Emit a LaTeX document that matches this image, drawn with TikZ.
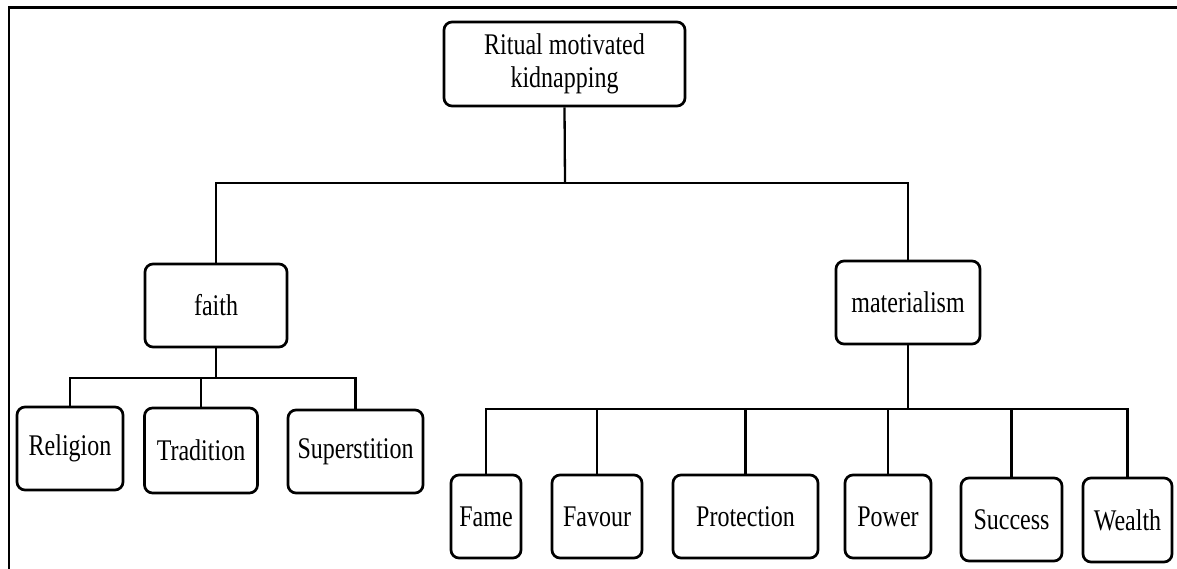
\documentclass[tikz,border=0pt]{standalone}
\usepackage{fontspec}
\setmainfont{Liberation Serif}[FakeStretch=0.8]
\begin{document}
\begin{tikzpicture}[x=1pt,y=-1pt,
  box/.style={draw=black, line width=2.7pt, rounded corners=8pt, fill=white,
    inner sep=0pt, align=center, font=\fontsize{30}{33}\selectfont},
  conn/.style={draw=black, line width=2.3pt}]
\useasboundingbox (0,0) rectangle (1177,569);
\clip (0,0) rectangle (1177,569);
\fill[white] (0,0) rectangle (1177,569);
\draw[line width=2.2pt] (9,7.5) rectangle (1200,600);

% nodes
\node[box, minimum width=241pt, minimum height=84pt] (root) at (564.5,64) {Ritual motivated\\kidnapping};
\node[box, minimum width=142pt, minimum height=83pt] (faith) at (216,305.5) {faith};
\node[box, minimum width=144pt, minimum height=83pt] (mat) at (908,302.5) {materialism};

\node[box, minimum width=106pt, minimum height=83pt] (rel) at (70,448.5) {Religion};
\node[box, minimum width=113pt, minimum height=85pt] (trad) at (201,450.5) {Tradition};
\node[box, minimum width=135pt, minimum height=83pt] (sup) at (355.5,451.5) {Superstition};

\node[box, minimum width=70pt, minimum height=83pt] (fame) at (486,516.5) {Fame};
\node[box, minimum width=90pt, minimum height=83pt] (fav) at (597,516.5) {Favour};
\node[box, minimum width=145pt, minimum height=83pt] (prot) at (745.5,516.5) {Protection};
\node[box, minimum width=86pt, minimum height=83pt] (pow) at (888,516.5) {Power};
\node[box, minimum width=101pt, minimum height=83pt] (succ) at (1011.5,519.5) {Success};
\node[box, minimum width=89pt, minimum height=84pt] (wea) at (1127.5,520) {Wealth};

% connectors
\coordinate (b0) at (565,183);
\draw[conn] (root.south) -- (b0);
\draw[conn] (faith.north) |- (b0) -| (mat.north);

\coordinate (bf) at (216,378);
\draw[conn] (faith.south) -- (bf);
\draw[conn] (rel.north) |- (bf) -| (sup.north);
\draw[conn] (trad.north) -- (trad.north |- bf);

\coordinate (bm) at (908,409);
\draw[conn] (mat.south) -- (bm);
\draw[conn] (fame.north) |- (bm) -| (wea.north);
\draw[conn] (fav.north) -- (fav.north |- bm);
\draw[conn] (prot.north) -- (prot.north |- bm);
\draw[conn] (pow.north) -- (pow.north |- bm);
\draw[conn] (succ.north) -- (succ.north |- bm);
\end{tikzpicture}
\end{document}
